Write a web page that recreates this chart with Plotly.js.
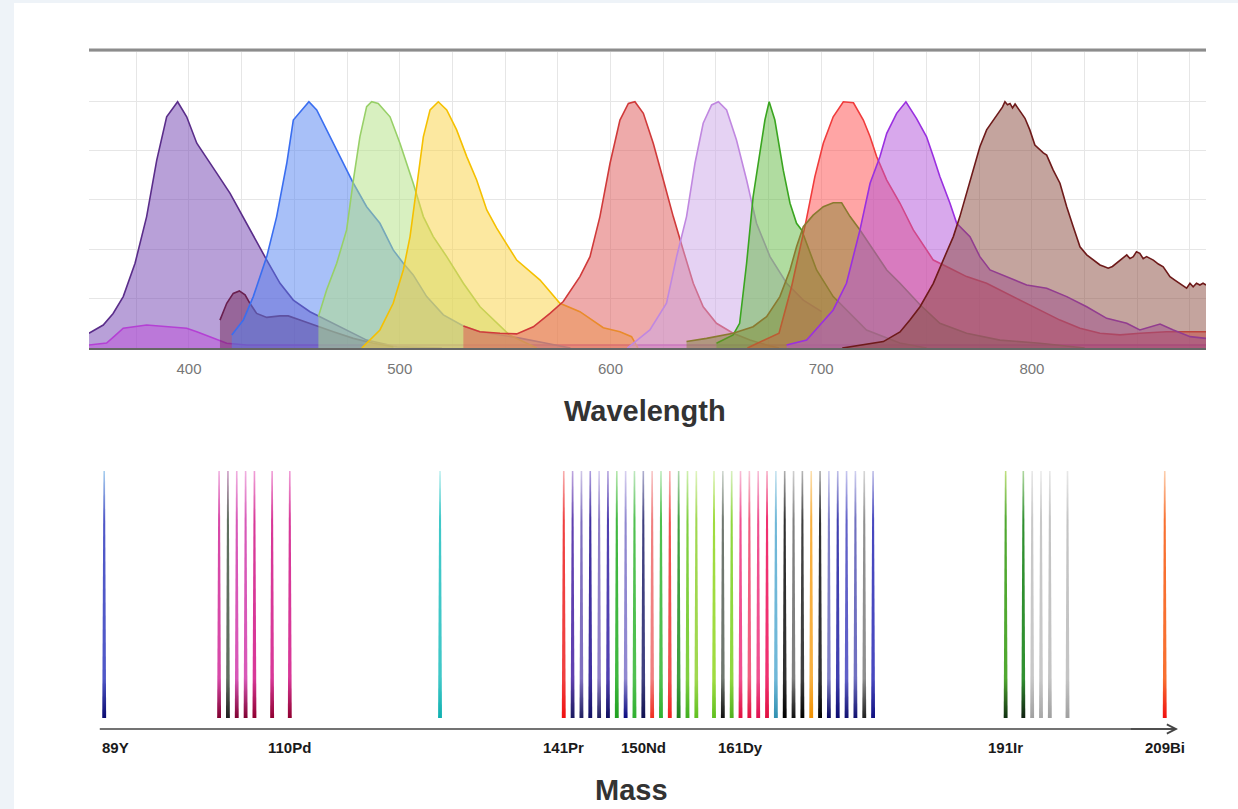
<!DOCTYPE html>
<html>
<head>
<meta charset="utf-8">
<script src="https://cdn.plot.ly/plotly-3.0.1.min.js"></script>
<style>
  html, body { margin: 0; padding: 0; background: #eef3f8; overflow: hidden; width: 1238px; height: 809px; }
  #chart { position: absolute; left: 14px; top: 3px; width: 1224px; height: 806px; background: #fff; }
</style>
</head>
<body>
<div id="chart"></div>
<script>
// ---------- Spectra (wavelength nm, normalized intensity) ----------
const wlA = [352.5, 359.3, 364, 368.8, 374.4, 379.9, 384.7, 389.4, 394.6, 398.9, 403.7, 407.6, 413, 419.5, 425, 430.5, 436.9, 443.2, 449.5, 457.4, 465.3, 474.8, 484.3, 498.6, 520];
const valA = [0.06, 0.093, 0.14, 0.208, 0.343, 0.532, 0.761, 0.936, 0.997, 0.936, 0.829, 0.781, 0.71, 0.626, 0.54, 0.451, 0.356, 0.262, 0.194, 0.147, 0.113, 0.073, 0.032, 0.005, 0];

const wlB = [352.5, 360.9, 364.9, 368.8, 379.9, 389.4, 398.9, 403.7, 411.5, 417.9, 427.4, 500, 600, 700, 800, 882.6];
const valB = [0.012, 0.02, 0.05, 0.08, 0.093, 0.086, 0.08, 0.066, 0.039, 0.019, 0.012, 0.012, 0.012, 0.012, 0.012, 0.012];

const wlC = [414.7, 417.9, 421, 423.9, 426.6, 428.9, 432.1, 436.9, 443.2, 447.1, 452.7, 459, 468.5, 478, 487.5, 497];
const valC = [0.113, 0.181, 0.221, 0.231, 0.215, 0.181, 0.14, 0.124, 0.13, 0.13, 0.113, 0.093, 0.066, 0.039, 0.019, 0.005];

const wlD = [420.3, 425.8, 430.5, 436.9, 441.6, 446.4, 449.5, 452.7, 456.9, 460.6, 465.3, 471.6, 478, 484.3, 490.6, 496.9, 501.7, 506.4, 512.8, 520.7, 530.2, 538.1, 547.6, 557, 569, 581];
const valD = [0.053, 0.113, 0.208, 0.37, 0.532, 0.748, 0.923, 0.957, 0.997, 0.964, 0.883, 0.775, 0.667, 0.572, 0.505, 0.397, 0.343, 0.296, 0.208, 0.134, 0.089, 0.066, 0.053, 0.04, 0.02, 0];

const wlE = [461.4, 465.3, 470.1, 474.8, 478, 481.1, 484.3, 486.7, 489.8, 495.4, 500.1, 506.4, 511.2, 515.9, 522.3, 530.2, 538.1, 546, 552, 558.5, 565];
const valE = [0.127, 0.235, 0.343, 0.478, 0.68, 0.855, 0.977, 0.997, 0.99, 0.936, 0.829, 0.667, 0.532, 0.451, 0.37, 0.262, 0.167, 0.1, 0.053, 0.026, 0];

const wlF = [482, 484.3, 490.6, 496.9, 501.7, 504.9, 508, 511.2, 514.4, 518.3, 522.3, 527, 531.8, 536.5, 541.3, 546, 555.5, 566.6, 576, 585.5, 596.6, 604.5, 610, 613];
const valF = [0, 0.019, 0.073, 0.181, 0.316, 0.451, 0.64, 0.855, 0.964, 0.997, 0.964, 0.883, 0.775, 0.68, 0.559, 0.485, 0.356, 0.275, 0.181, 0.147, 0.082, 0.066, 0.046, 0];

const wlG = [530.2, 538, 547.6, 555.5, 563.4, 571.3, 577.6, 585.5, 590.3, 595, 599.8, 604.5, 608.5, 611.6, 615.6, 620.3, 625.1, 629.8, 634.5, 639.3, 644, 650.3, 658.2, 666.2, 674.1, 680];
const valG = [0.089, 0.066, 0.06, 0.057, 0.086, 0.14, 0.188, 0.289, 0.37, 0.532, 0.748, 0.923, 0.99, 0.997, 0.95, 0.829, 0.68, 0.532, 0.397, 0.262, 0.167, 0.1, 0.06, 0.032, 0.012, 0];

const wlH = [608, 610.8, 618.7, 626.6, 631.4, 636.1, 640.1, 644, 648, 651.2, 655.1, 659.8, 664.6, 669.3, 675.7, 683.6, 691.5, 700.2];
const valH = [0, 0.019, 0.073, 0.181, 0.37, 0.532, 0.748, 0.91, 0.984, 0.997, 0.964, 0.842, 0.68, 0.505, 0.37, 0.262, 0.194, 0.147];

const wlI = [650.3, 658.2, 661.3, 664.6, 667.7, 670.9, 673.3, 675.3, 678, 682, 685.2, 688.3, 690.7, 697.8, 705.7, 721.5, 737.3, 750];
const valI = [0.019, 0.053, 0.1, 0.343, 0.613, 0.802, 0.923, 0.997, 0.923, 0.72, 0.586, 0.505, 0.478, 0.316, 0.208, 0.073, 0.02, 0];

const wlJ = [636.1, 645.6, 658.2, 667.7, 674.1, 680.4, 685.2, 688.3, 691.5, 696.2, 701, 705.7, 709.7, 713.7, 718.4, 724.7, 731.1, 737.4, 746.9, 756.3, 769, 784.8, 803.8, 819.6, 825];
const valJ = [0.026, 0.039, 0.06, 0.086, 0.127, 0.208, 0.316, 0.41, 0.491, 0.538, 0.572, 0.588, 0.588, 0.532, 0.478, 0.397, 0.316, 0.262, 0.175, 0.1, 0.06, 0.032, 0.019, 0.005, 0];

const wlK = [665, 680, 686, 692.9, 697, 701, 705.7, 710.5, 715.3, 720, 723.2, 726.3, 731.1, 737.4, 743.7, 750, 753.2, 761.1, 769, 778.5, 788, 800.6, 813.3, 822.8, 832.3, 841.8, 851.2, 863.9, 875.3, 882.6];
const valK = [0, 0.06, 0.25, 0.518, 0.694, 0.829, 0.936, 0.997, 0.993, 0.923, 0.855, 0.775, 0.68, 0.586, 0.478, 0.397, 0.356, 0.323, 0.289, 0.262, 0.221, 0.167, 0.113, 0.08, 0.06, 0.053, 0.06, 0.066, 0.066, 0.066];

const wlL = [683.6, 693.1, 705.7, 712, 718.4, 723.2, 727.9, 731.1, 735.8, 740.2, 745.2, 750, 753.2, 756.3, 761.1, 764.3, 770.6, 775.3, 780.1, 788, 797.5, 807, 816.5, 826, 835.5, 845, 851.2, 860.8, 867.1, 875.1, 882.6];
const valL = [0.012, 0.032, 0.154, 0.262, 0.478, 0.667, 0.775, 0.869, 0.95, 0.997, 0.93, 0.855, 0.775, 0.694, 0.586, 0.505, 0.451, 0.37, 0.316, 0.289, 0.255, 0.242, 0.208, 0.167, 0.12, 0.1, 0.073, 0.097, 0.073, 0.046, 0.039];

const wlM = [710, 729.5, 737.4, 742.1, 746.9, 753.2, 757.9, 762.7, 765.8, 770.6, 775.3, 778.5, 781.6, 784.8, 786, 787.2, 788.4, 789.6, 790.8, 792, 793.1, 794.3, 795.5, 796.7, 799, 801.4, 803.8, 805.4, 807, 810.1, 813.3, 816.5, 819.6, 822.8, 826, 829.1, 832.3, 834.2, 836.2, 838.2, 840.2, 842.6, 845, 846.5, 848.1, 849.6, 851.2, 852.8, 854.4, 857.6, 860, 862.3, 863.9, 865.5, 867.8, 870.2, 871.8, 873.4, 875, 876.5, 878.1, 879.7, 881.2, 882.6];
const valM = [0, 0.026, 0.065, 0.113, 0.167, 0.262, 0.356, 0.451, 0.532, 0.68, 0.815, 0.883, 0.923, 0.964, 0.975, 0.997, 0.985, 0.99, 0.972, 0.988, 0.975, 0.964, 0.945, 0.93, 0.883, 0.822, 0.802, 0.79, 0.781, 0.72, 0.667, 0.572, 0.491, 0.41, 0.377, 0.356, 0.336, 0.33, 0.323, 0.33, 0.343, 0.36, 0.377, 0.362, 0.37, 0.39, 0.383, 0.362, 0.37, 0.356, 0.34, 0.329, 0.31, 0.289, 0.275, 0.262, 0.25, 0.242, 0.262, 0.248, 0.262, 0.255, 0.262, 0.255];

// ---------- Mass channels ----------
const spikeMass = [89, 102, 103, 104, 105, 106, 108, 110, 127,
  141, 142, 143, 144, 145, 146, 147, 148, 149, 150, 151, 152, 153, 154, 155, 156,
  158, 159, 160, 161, 162, 163, 164, 165, 166, 167, 168, 169, 170, 171, 172, 173, 174, 175, 176,
  191, 193, 194, 195, 196, 198, 209];
const spikeDark = ['#0a0a70', '#800030', '#202020', '#800030', '#800030', '#900030', '#900030', '#900030', '#10b0b0',
  '#f01010', '#1a1a60', '#202060', '#101060', '#202060', '#101060', '#20a020', '#0a0a80', '#30b030', '#101050', '#f03020', '#30b030', '#f02020', '#208020', '#40b020', '#60c020',
  '#60c020', '#101010', '#50b020', '#e01040', '#e01040', '#e01050', '#e01040', '#3090b0', '#000000', '#101010', '#000000', '#f09000', '#000000', '#0a0a60', '#0a0a70', '#101070', '#101070', '#202020', '#101080',
  '#103010', '#102010', '#a0a0a0', '#a8a8a8', '#a0a0a0', '#a0a0a0', '#f01010'];
const spikeMid = ['#5058c8', '#d848a8', '#607060', '#d858b8', '#d858b8', '#d83898', '#d83898', '#d83898', '#40c8c8',
  '#f04040', '#6040b0', '#8070c0', '#4030a0', '#9080c8', '#5040b0', '#40b840', '#9088d0', '#50c050', '#404080', '#f08080', '#50c050', '#f05050', '#40a040', '#80d040', '#a0d850',
  '#a0dc40', '#707870', '#90d840', '#f05090', '#f06080', '#f05090', '#f03070', '#70b8d8', '#303030', '#808080', '#404040', '#f8b040', '#303030', '#8080c8', '#4040b0', '#6060c8', '#7070c0', '#909090', '#4848c0',
  '#50a830', '#309030', '#c8c8c8', '#c8c8c8', '#c4c4c4', '#c4c4c4', '#f87030'];
const spikeLight = ['#a8d0f0', '#f0b0e0', '#d0a0c8', '#f0b0e0', '#f0b0e0', '#f0a0d8', '#f0a0d8', '#f0a0d8', '#c0f0f0',
  '#f8b0b0', '#c0a8e0', '#d0c8e8', '#b0a0e0', '#d8d0f0', '#b8a8e0', '#b8e8b0', '#d8d0f0', '#c0e8c0', '#b0b0d0', '#f8c8c8', '#c0ecc0', '#f8b8b8', '#b0d8b0', '#d0f0b0', '#e0f4c0',
  '#e0f4c0', '#d0d8d0', '#d8f0c0', '#f8c0d8', '#f8c8d8', '#f8c0d8', '#f8b0c8', '#c8e4f0', '#b0b0b0', '#d0d0d0', '#b8b8b8', '#fce0b0', '#b0b0b0', '#d0d0f0', '#c0c0e8', '#c8c8f0', '#d0d0f0', '#d8d8d8', '#c0c0e8',
  '#c0e080', '#b0d8a0', '#e8e8e8', '#ececec', '#e8e8e8', '#e8e8e8', '#fcd0b0'];

const massTickVals = [89, 110, 141, 150, 161, 191, 209];
const massTickText = ['89Y', '110Pd', '141Pr', '150Nd', '161Dy', '191Ir', '209Bi'];

// ---------- Build traces ----------
function spec(x, y, line, fill) {
  return { type: 'scatter', mode: 'lines', x: x, y: y, xaxis: 'x', yaxis: 'y',
    fill: 'tozeroy', fillcolor: fill, line: { color: line, width: 1.6 }, hoverinfo: 'skip', showlegend: false };
}
const traces = [
  spec(wlA, valA, '#5a2d8a', 'rgba(113,65,177,0.5)'),
  spec(wlB, valB, '#b440d4', 'rgba(190,70,220,0.45)'),
  spec(wlC, valC, '#6a2050', 'rgba(110,30,80,0.45)'),
  spec(wlD, valD, '#3a6ef0', 'rgba(81,129,241,0.5)'),
  spec(wlE, valE, '#98d068', 'rgba(177,225,129,0.5)'),
  spec(wlF, valF, '#f5c000', 'rgba(249,209,65,0.5)'),
  spec(wlG, valG, '#d03a3a', 'rgba(221,85,85,0.5)'),
  spec(wlH, valH, '#c088e0', 'rgba(203,165,231,0.5)'),
  spec(wlI, valI, '#3aa520', 'rgba(97,185,65,0.5)'),
  spec(wlK, valK, '#f03c3c', 'rgba(255,75,75,0.5)'),
  spec(wlJ, valJ, '#8a7a30', 'rgba(125,130,40,0.45)'),
  spec(wlL, valL, '#9a30e0', 'rgba(177,81,217,0.5)'),
  spec(wlM, valM, '#6e1a1a', 'rgba(137,73,61,0.5)')
];

const halfBase = 0.22, halfTop = 0.09;
spikeMass.forEach(function (m, i) {
  traces.push({
    type: 'scatter', mode: 'lines', xaxis: 'x2', yaxis: 'y2',
    x: [m - halfBase, m + halfBase, m + halfTop, m - halfTop, m - halfBase],
    y: [0, 0, 1, 1, 0],
    fill: 'toself', line: { width: 0, color: 'rgba(0,0,0,0)' },
    fillcolor: spikeMid[i],
    fillgradient: { type: 'vertical', colorscale: [[0, spikeDark[i]], [0.16, spikeMid[i]], [0.8, spikeMid[i]], [1, spikeLight[i]]] },
    hoverinfo: 'skip', showlegend: false
  });
});

// ---------- Annotations ----------
const titleFont = { family: 'Liberation Sans, Arial, sans-serif', size: 29, color: '#333' };
const axisY = -0.0445;
const annotations = [
  { text: '<b>Wavelength</b>', xref: 'paper', yref: 'paper', x: 0.5155, y: 0.4938, xanchor: 'center', yanchor: 'middle',
    showarrow: false, font: titleFont },
  { text: '<b>Mass</b>', xref: 'paper', yref: 'paper', x: 0.5041, y: 0.0236, xanchor: 'center', yanchor: 'middle',
    showarrow: false, font: titleFont },
  { text: '', xref: 'x2', yref: 'y2', x: 210.5, y: axisY, axref: 'x2', ayref: 'y2', ax: 205, ay: axisY,
    showarrow: true, arrowhead: 5, arrowsize: 1.2, arrowwidth: 1.5, arrowcolor: '#444' }
];
massTickVals.forEach(function (m, i) {
  annotations.push({ text: '<b>' + massTickText[i] + '</b>', xref: 'x2', yref: 'paper', x: m, y: 0.0769,
    xanchor: 'center', yanchor: 'middle', xshift: (i === 0 ? 11 : 0), showarrow: false,
    font: { family: 'Liberation Sans, Arial, sans-serif', size: 15, color: '#1a1a1a' } });
});

const layout = {
  width: 1224, height: 806,
  margin: { l: 0, r: 0, t: 0, b: 0 },
  paper_bgcolor: '#ffffff', plot_bgcolor: 'rgba(0,0,0,0)',
  showlegend: false,
  xaxis: {
    domain: [0.061275, 0.973856], range: [352.55, 882.6], anchor: 'y',
    tickmode: 'linear', tick0: 400, dtick: 100, ticks: '', ticklabelstandoff: 6,
    tickfont: { family: 'Liberation Sans, Arial, sans-serif', size: 15, color: '#777' },
    showgrid: true, gridcolor: '#e6e6e6', gridwidth: 1,
    minor: { tick0: 400, dtick: 25, showgrid: true, gridcolor: '#e6e6e6', gridwidth: 1 },
    showline: true, linecolor: '#666', linewidth: 2, zeroline: false, fixedrange: true
  },
  yaxis: {
    domain: [0.57196, 0.941687], range: [0, 1.2065], anchor: 'x',
    tickmode: 'linear', tick0: 0, dtick: 0.2, showticklabels: false, ticks: '',
    showgrid: true, gridcolor: '#e6e6e6', gridwidth: 1, zeroline: false, showline: false, fixedrange: true
  },
  xaxis2: { domain: [0, 1], range: [78.794, 217.29], anchor: 'y2', visible: false, fixedrange: true },
  yaxis2: { domain: [0.08226, 0.41935], range: [-0.1, 1], anchor: 'x2', visible: false, fixedrange: true },
  shapes: [
    { type: 'line', xref: 'x domain', yref: 'y domain', x0: 0, x1: 1, y0: 1, y1: 1,
      line: { color: '#8c8c8c', width: 3 } },
    { type: 'line', xref: 'x2', yref: 'y2', x0: 88.5, x1: 210.3, y0: axisY, y1: axisY,
      line: { color: '#444', width: 1.4 } }
  ],
  annotations: annotations
};

Plotly.newPlot('chart', traces, layout, { staticPlot: true, displayModeBar: false });
</script>
</body>
</html>
